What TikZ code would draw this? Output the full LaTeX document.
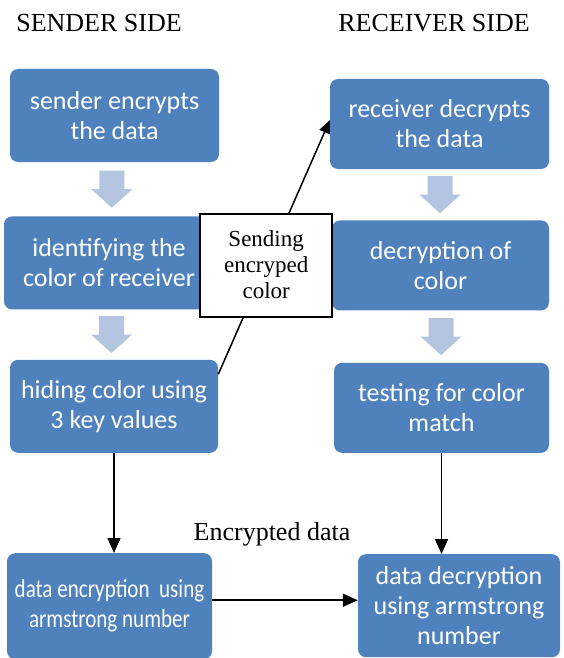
\documentclass[tikz,border=0pt]{standalone}
\usepackage{fontspec}
\setmainfont{Liberation Serif}
\newfontfamily\boxfont{Carlito}
\newfontfamily\narrowfont[FakeStretch=0.81]{Carlito}
\usepackage{tikz}
\usetikzlibrary{arrows.meta,positioning,calc}
\definecolor{stepBlue}{RGB}{79,129,189}
\definecolor{stepLightBlue}{RGB}{179,197,225}

\begin{document}
\begin{tikzpicture}[x=1pt,y=1pt,
  block/.style={fill=stepBlue,rounded corners=8pt,minimum width=209pt,minimum height=93pt,align=center,text=white,inner sep=2pt,font={\boxfont\fontsize{26}{30}\selectfont}},
  rblock/.style={block,minimum width=217pt,minimum height=90pt},
  sendbox/.style={draw,line width=2pt,fill=white,minimum width=132pt,minimum height=103pt,align=center,inner sep=2pt,font={\fontsize{23}{26}\selectfont}},
  side/.style={anchor=base,font={\fontsize{26}{31}\selectfont}},
  arrow/.style={-{Triangle[length=15pt,width=13pt]},line width=1.6pt},
  downarr/.pic={\fill[stepLightBlue] (-12.5,18.5) -- (12.5,18.5) -- (12.5,0) -- (20.5,0) -- (0,-18.5) -- (-20.5,0) -- (-12.5,0) -- cycle;}
]
  \useasboundingbox (0,0) rectangle (564,-658);

  \node[side] (sside) at (99,-32) {SENDER SIDE};
  \node[side] (rside) at (434,-32) {RECEIVER SIDE};

  \node[block] (enc) at (114.5,-115.5) {sender encrypts\\the data};
  \node[block,below=54pt of enc,xshift=-5.5pt,minimum width=210pt] (ident) {identifying the\\color of receiver};
  \node[block,below=50pt of ident,xshift=5pt,minimum width=208pt] (hide) {hiding color using\\3 key values};
  \node[block,below=100pt of hide,xshift=-4.5pt,minimum width=205pt,minimum height=106pt,font={\narrowfont\fontsize{26}{30}\selectfont}] (dataenc) {data encryption\ \ using\\armstrong number};

  \node[rblock,minimum width=219pt] (dec) at (439.5,-124) {receiver decrypts\\the data};
  \node[rblock,below=51pt of dec,xshift=1pt] (colordec) {decryption of\\color};
  \node[rblock,below=52pt of colordec,xshift=1pt,minimum width=215pt] (match) {testing for color\\match};
  \node[rblock,below=101pt of match,xshift=17.5pt,minimum width=202pt,minimum height=103pt] (datadec) {data decryption\\using armstrong\\number};

  \pic at ($(enc.south)!0.5!(ident.north)$) {downarr};
  \pic at ($(ident.south)!0.5!(hide.north)$) {downarr};
  \pic at ($(dec.south)!0.5!(colordec.north)$) {downarr};
  \pic at ($(colordec.south)!0.5!(match.north)$) {downarr};

  \draw[-{Triangle[length=13pt,width=11pt]},line width=1.5pt] (hide.17) -- node[sendbox,pos=0.43] (sendlbl) {Sending\\encryped\\color} (dec.178);
  \draw[arrow] (hide.south) -- (hide.south |- dataenc.north);
  \draw[arrow] (match.south) -- (match.south |- datadec.north);
  \draw[arrow] ([yshift=6pt]dataenc.east) -- ([yshift=6pt]dataenc.east -| datadec.west);
  \node[side] (encl) at (272,-540) {Encrypted data};
\end{tikzpicture}
\end{document}
